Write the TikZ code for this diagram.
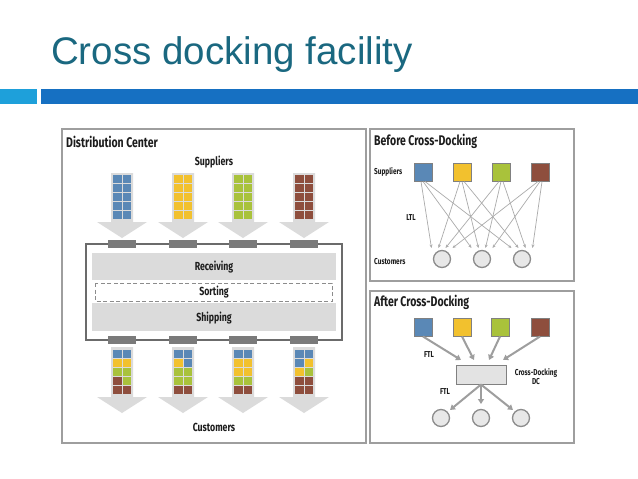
\documentclass[tikz,border=0pt]{standalone}
\usepackage{fontspec}
\setmainfont{Liberation Sans}
\newfontfamily\cond[FakeStretch=0.75]{Fira Sans}
\usetikzlibrary{arrows.meta}
\definecolor{ttl}{HTML}{1A6880}
\definecolor{lbar}{HTML}{1EA0DA}
\definecolor{dbar}{HTML}{1670C2}
\definecolor{cB}{HTML}{5A88B6}
\definecolor{cY}{HTML}{F2C12E}
\definecolor{cG}{HTML}{A9C23B}
\definecolor{cR}{HTML}{8E4E3D}
\definecolor{txt}{HTML}{1C1C1C}
\tikzset{
  panel/.style={draw=black!38, line width=1.4pt, fill=white},
  bigarrow/.style={fill=black!14},
  dock/.style={fill=black!52},
  band/.style={fill=black!14},
  bldg/.style={draw=black!58, line width=1.6pt},
  sortbox/.style={draw=black!45, line width=0.9pt, dash pattern=on 4pt off 2.5pt},
  head/.style={font=\cond\bfseries\fontsize{14}{15}\selectfont, text=txt, inner sep=0},
  lab/.style={font=\cond\bfseries\fontsize{11.7}{12}\selectfont, text=txt, inner sep=0},
  slab/.style={font=\cond\bfseries\fontsize{8.6}{9.4}\selectfont, text=txt, inner sep=0},
  sq/.style={draw=black!50, line width=1pt, minimum size=18pt, inner sep=0},
  cust/.style={circle, draw=black!45, line width=1.3pt, fill=black!9, minimum size=17pt, inner sep=0},
  ltl/.style={draw=black!33, line width=0.7pt, -{Stealth[length=3.5pt,width=3pt]}},
  ftl/.style={draw=black!38, line width=2pt, -{Triangle[length=5pt,width=6pt]}},
}
\begin{document}
\begin{tikzpicture}[x=1pt,y=-1pt]
\useasboundingbox (0,0) rectangle (638,479);
\fill[white] (0,0) rectangle (638,479);
% title and bars
\node[anchor=base west, text=ttl, font=\fontsize{38.5}{40}\selectfont, inner sep=0] (title) at (51,64) {Cross docking facility};
\fill[lbar] (0,89) rectangle (37,104);
\fill[dbar] (41,89) rectangle (638,104);
% panels
\draw[panel] (62,129) rectangle (366,443);
\draw[panel] (370,129) rectangle (574,281);
\draw[panel] (370,291) rectangle (574,443);
% ---------- distribution center ----------
\node[head, anchor=west] (dc) at (66,142) {Distribution Center};
\node[lab] (sup) at (214,162) {Suppliers};
\node[lab] (cus) at (214,427) {Customers};
% building
\draw[bldg] (86,244) rectangle (342,340);
\fill[band] (92,253) rectangle (336,280);
\node[lab] (rec) at (214,267) {Receiving};
\draw[sortbox] (95,283) rectangle (332,301);
\node[lab] (sor) at (214,292) {Sorting};
\fill[band] (92,303) rectangle (336,331);
\node[lab] (shi) at (214,318) {Shipping};
% incoming columns
\foreach \cx/\col in {122/cB,183/cY,243/cG,304/cR}{
  \fill[bigarrow] ({\cx-11},173) -- ({\cx+11},173) -- ({\cx+11},222) -- ({\cx+25},222)
     -- (\cx,238) -- ({\cx-25},222) -- ({\cx-11},222) -- cycle;
  \foreach \r in {0,...,4}{
    \fill[\col] ({\cx-9},{175+\r*9}) rectangle ++(8.5,7.8);
    \fill[\col] ({\cx+0.5},{175+\r*9}) rectangle ++(8.5,7.8);
  }
  \fill[dock] ({\cx-14},240) rectangle ({\cx+14},248);
  \fill[dock] ({\cx-14},336) rectangle ({\cx+14},344);
}
% outgoing columns
\foreach \cx/\cl in {122/{cB,cB,cY,cY,cG,cG,cR,cG,cR,cR},
                     183/{cB,cB,cY,cB,cG,cG,cG,cG,cR,cR},
                     243/{cB,cB,cY,cY,cY,cY,cG,cG,cR,cR},
                     304/{cB,cB,cB,cY,cY,cG,cR,cR,cR,cR}}{
  \fill[bigarrow] ({\cx-11},347) -- ({\cx+11},347) -- ({\cx+11},397) -- ({\cx+25},397)
     -- (\cx,413) -- ({\cx-25},397) -- ({\cx-11},397) -- cycle;
  \foreach \c [count=\n from 0] in \cl {
    \pgfmathtruncatemacro\rr{\n/2}
    \pgfmathtruncatemacro\ss{mod(\n,2)}
    \fill[\c] ({\cx-9+\ss*9.5},{350+\rr*9}) rectangle ++(8.5,7.8);
  }
}
% ---------- before cross-docking ----------
\node[head, anchor=west] (bh) at (374,141) {Before Cross-Docking};
\node[slab, anchor=west] (bs) at (374,172) {Suppliers};
\node[slab, anchor=west] (bc) at (374,262) {Customers};
\node[slab] (ltl) at (411,218) {LTL};
\node[sq, fill=cB] (b1) at (423,172) {};
\node[sq, fill=cY] (b2) at (462,172) {};
\node[sq, fill=cG] (b3) at (501,172) {};
\node[sq, fill=cR] (b4) at (540,172) {};
\node[cust] (c1) at (442,259) {};
\node[cust] (c2) at (482,259) {};
\node[cust] (c3) at (522,259) {};
\foreach \i in {1,...,4}{
  \foreach \k/\kx in {1/442,2/482,3/522}{
    \coordinate (e\i\k) at ({\kx+(\i-2.5)*7},248);
    \draw[ltl] ([xshift={(\k-2)*2pt}]b\i.south) -- (e\i\k);
  }
}
% ---------- after cross-docking ----------
\node[head, anchor=west] (ah) at (374,302) {After Cross-Docking};
\node[sq, fill=cB] (a1) at (423,327) {};
\node[sq, fill=cY] (a2) at (462,327) {};
\node[sq, fill=cG] (a3) at (500,327) {};
\node[sq, fill=cR] (a4) at (540,327) {};
\node[draw=black!50, line width=1pt, fill=black!11, minimum width=50pt, minimum height=19pt, inner sep=0] (hub) at (481,374.5) {};
\node[slab] (ftl1) at (429,355) {FTL};
\node[slab] (ftl2) at (445,392) {FTL};
\node[slab, align=center] (hubl) at (536,376.5) {Cross-Docking\\DC};
\coordinate (t1) at (461,360);
\coordinate (t2) at (474,360);
\coordinate (t3) at (489,360);
\coordinate (t4) at (503,360);
\foreach \i in {1,...,4}{ \draw[ftl] (a\i.south) -- (t\i); }
\node[cust] (d1) at (441,418) {};
\node[cust] (d2) at (481,418) {};
\node[cust] (d3) at (521,418) {};
\coordinate (u1) at (450,410);
\coordinate (u2) at (481,404);
\coordinate (u3) at (513,410);
\foreach \i in {1,2,3}{ \draw[ftl] (hub.south) -- (u\i); }
\end{tikzpicture}
\end{document}
